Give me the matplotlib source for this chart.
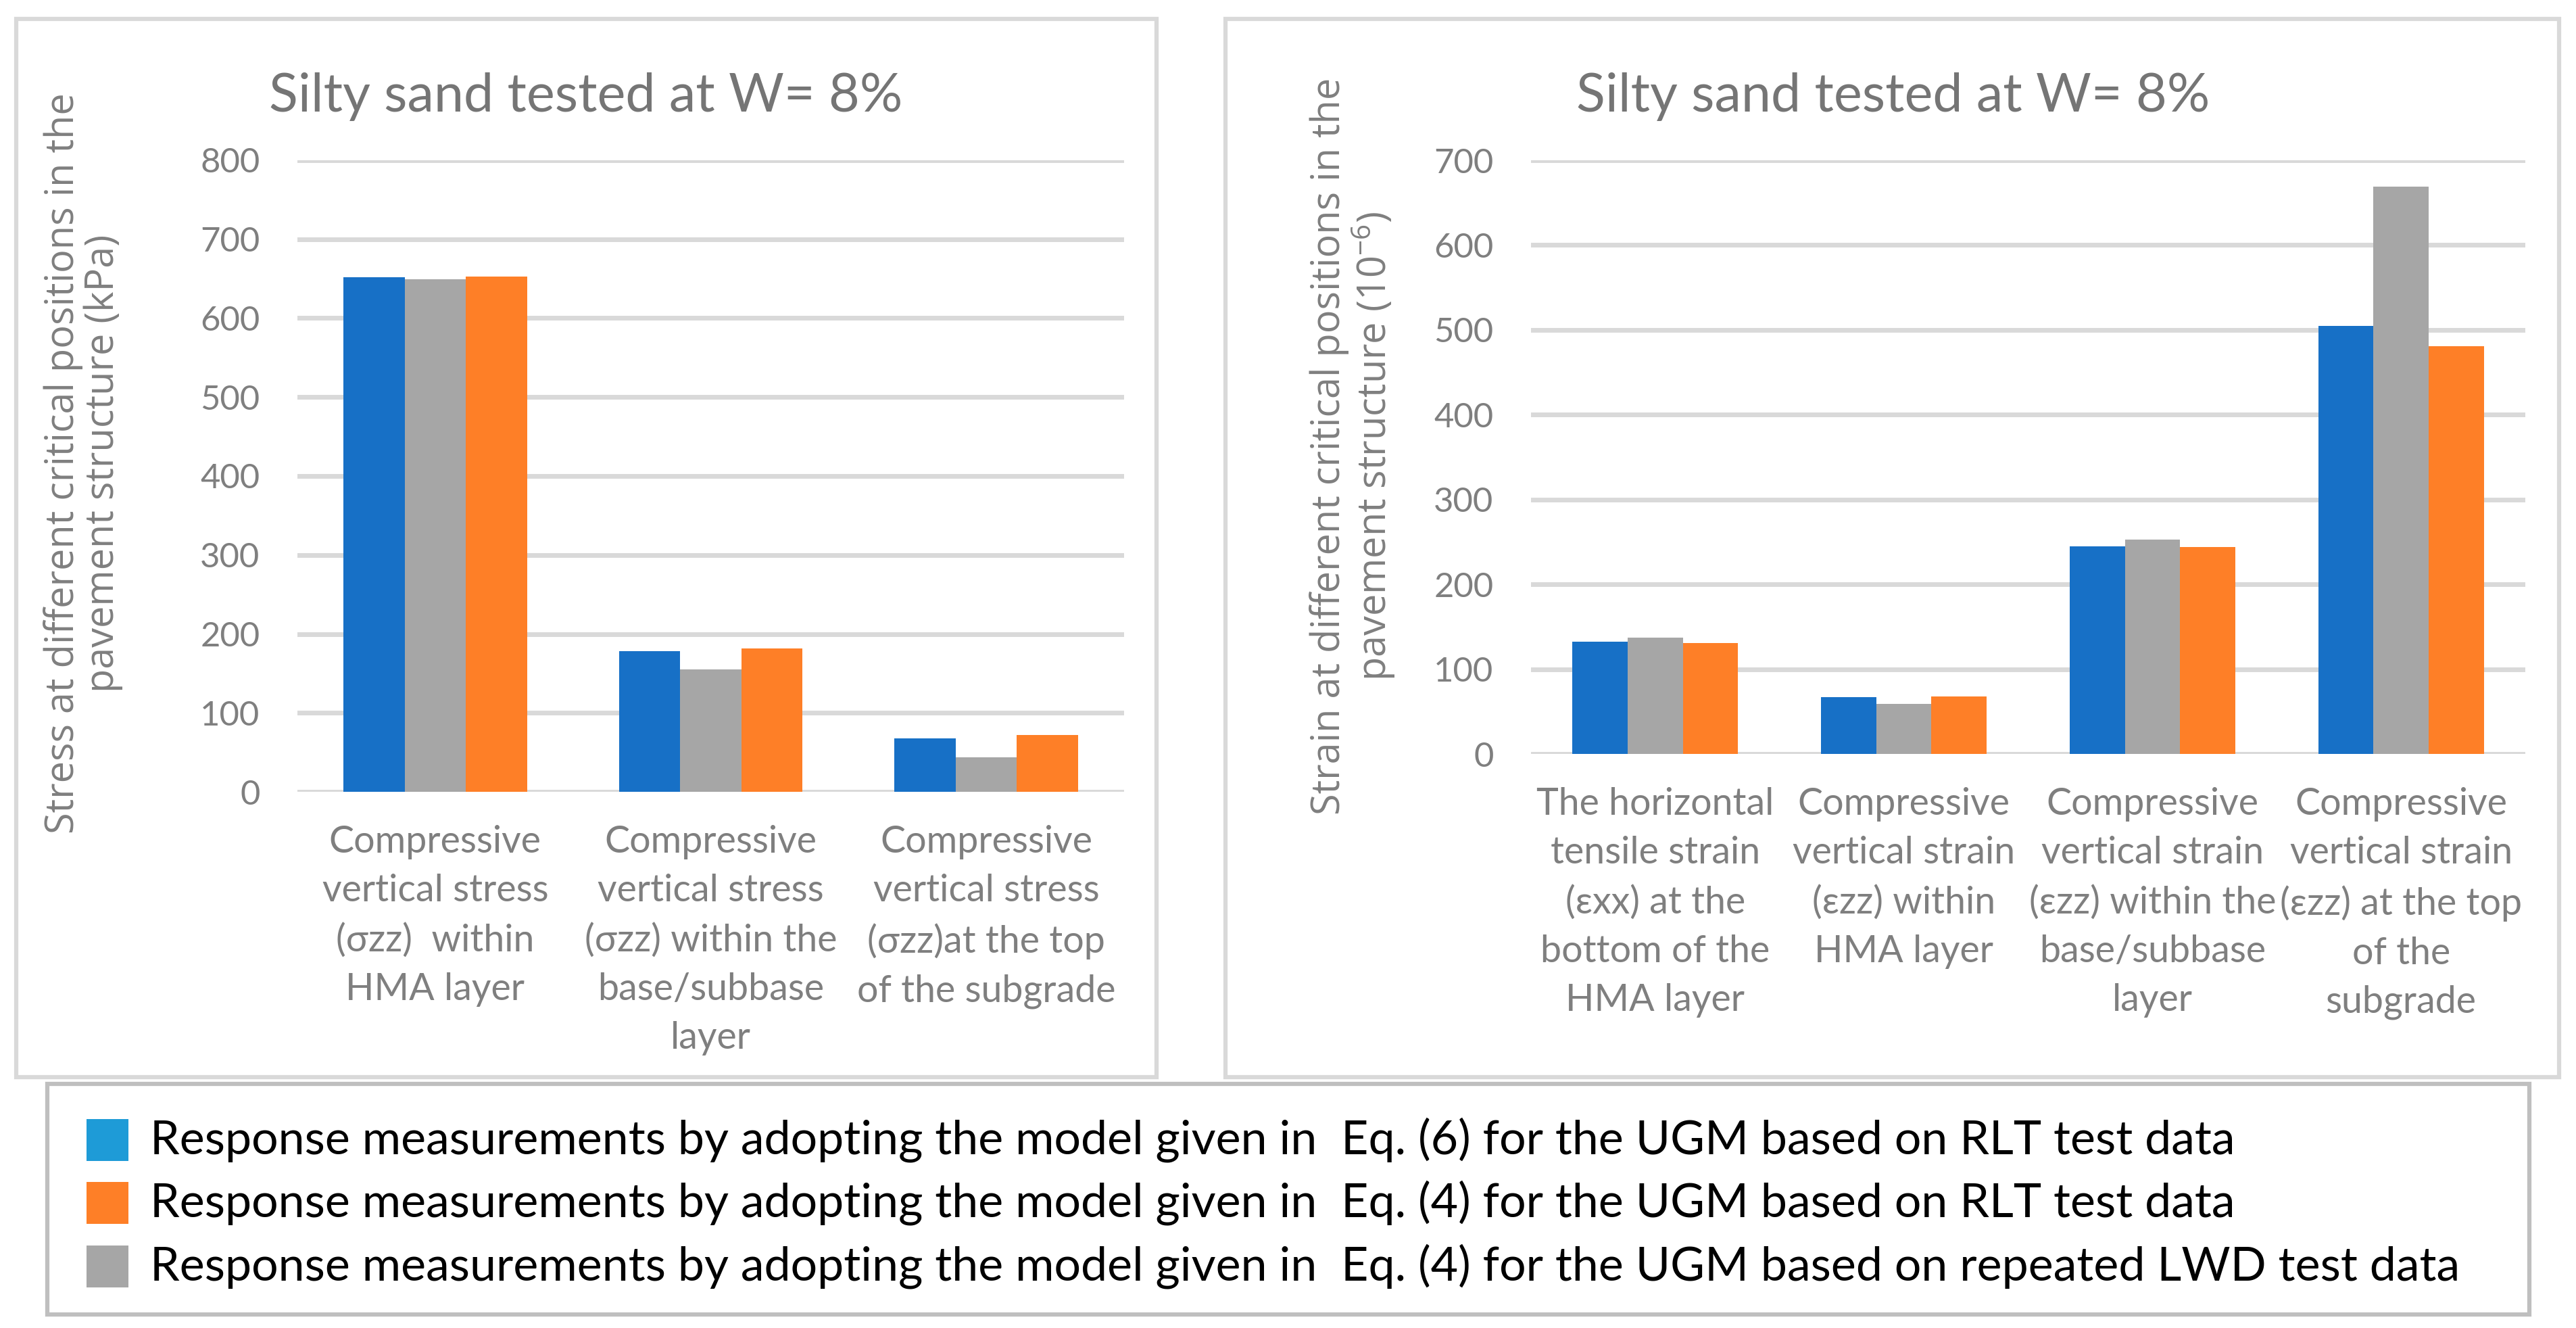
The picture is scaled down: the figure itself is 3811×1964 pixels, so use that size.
import matplotlib
matplotlib.use("Agg")
import matplotlib.pyplot as plt
from matplotlib.patches import Rectangle
import numpy as np

# ---------------- data ----------------
stress_categories = [
    "Compressive\nvertical stress\n(σzz)  within\nHMA layer",
    "Compressive\nvertical stress\n(σzz) within the\nbase/subbase\nlayer",
    "Compressive\nvertical stress\n(σzz)at the top\nof the subgrade",
]
stress_eq6_rlt = [652, 178, 68]
stress_eq4_lwd = [649, 155, 44]
stress_eq4_rlt = [653, 182, 72]

strain_categories = [
    "The horizontal\ntensile strain\n(εxx) at the\nbottom of the\nHMA layer",
    "Compressive\nvertical strain\n(εzz) within\nHMA layer",
    "Compressive\nvertical strain\n(εzz) within the\nbase/subbase\nlayer",
    "Compressive\nvertical strain\n(εzz) at the top\nof the\nsubgrade",
]
strain_eq6_rlt = [132, 67, 245, 505]
strain_eq4_lwd = [137, 59, 253, 669]
strain_eq4_rlt = [131, 68, 244, 481]

stress_ticks = [0, 100, 200, 300, 400, 500, 600, 700, 800]
strain_ticks = [0, 100, 200, 300, 400, 500, 600, 700]

title_text = "Silty sand tested at W= 8%"
stress_ylabel = "Stress at different critical positions in the\npavement structure (kPa)"
strain_ylabel = "Strain at different critical positions in the\npavement structure (10$^{\\mathregular{-6}}$)"

legend_labels = [
    "Response measurements by adopting the model given in  Eq. (6) for the UGM based on RLT test data",
    "Response measurements by adopting the model given in  Eq. (4) for the UGM based on RLT test data",
    "Response measurements by adopting the model given in  Eq. (4) for the UGM based on repeated LWD test data",
]

BLUE = "#1770C6"
GRAY = "#A6A6A6"
ORANGE = "#FE7F27"
LEGEND_BLUE = "#1E9BD7"
legend_colors = [LEGEND_BLUE, ORANGE, GRAY]

TXT = "#7F7F7F"
GRID = "#D9D9D9"

plt.rcParams["mathtext.fontset"] = "custom"
plt.rcParams["mathtext.rm"] = "Open Sans"

W, H = 3811, 1964
fig = plt.figure(figsize=(W / 100, H / 100), dpi=100)
fig.patch.set_facecolor("white")


def px_rect(x0, y0, x1, y1):
    """convert top-origin pixel box to figure fraction [l, b, w, h]"""
    return [x0 / W, 1 - y1 / H, (x1 - x0) / W, (y1 - y0) / H]


def frame(x0, y0, x1, y1, color, lw):
    l, b, w, h = px_rect(x0, y0, x1, y1)
    fig.add_artist(Rectangle((l, b), w, h, transform=fig.transFigure,
                             fill=False, edgecolor=color, linewidth=lw, zorder=0))


# panel frames
frame(24, 28, 1711, 1593, GRID, 4.5)
frame(1813, 28, 3786, 1593, GRID, 4.5)
# legend frame
frame(70, 1603, 3742, 1944, "#BFBFBF", 4.5)


def draw_panel(rect, cats, s_blue, s_gray, s_orange, ticks, ylabel, ylabel_x, ylabel_y, title_x):
    ax = fig.add_axes(px_rect(*rect))
    x = np.arange(len(cats))
    bw = 0.222
    ax.bar(x - bw, s_blue, bw, color=BLUE, zorder=3)
    ax.bar(x, s_gray, bw, color=GRAY, zorder=3)
    ax.bar(x + bw, s_orange, bw, color=ORANGE, zorder=3)
    ax.set_xlim(-0.5, len(cats) - 0.5)
    ax.set_ylim(ticks[0], ticks[-1])
    ax.set_yticks(ticks)
    ax.set_yticklabels([str(t) for t in ticks], family="Lato", fontsize=36.5, color=TXT)
    ax.set_xticks(x)
    ax.set_xticklabels(cats, family="Lato", fontsize=40, color=TXT, linespacing=1.52)
    ax.tick_params(axis="both", length=0)
    ax.tick_params(axis="y", pad=40)
    ax.tick_params(axis="x", pad=35)
    for s in ax.spines.values():
        s.set_visible(False)
    ax.yaxis.grid(True, color=GRID, linewidth=5, zorder=0)
    ax.set_axisbelow(True)
    ax.set_facecolor("none")
    fig.text(ylabel_x / W, 1 - ylabel_y / H, ylabel, rotation=90, ha="center", va="center",
             family="Open Sans", fontsize=41.5, color=TXT, linespacing=1.02)
    fig.text(title_x / W, 1 - 143 / H, title_text, ha="left", va="center",
             family="Lato", fontsize=57, color="#757575")
    return ax


draw_panel((440, 237, 1663, 1171), stress_categories, stress_eq6_rlt, stress_eq4_lwd,
           stress_eq4_rlt, stress_ticks, stress_ylabel, 123, 685, 398)
draw_panel((2265, 237, 3736, 1115), strain_categories, strain_eq6_rlt, strain_eq4_lwd,
           strain_eq4_rlt, strain_ticks, strain_ylabel, 2002, 660, 2332)

# legend
row_y = [1686, 1779, 1873]
for lab, col, yc in zip(legend_labels, legend_colors, row_y):
    l, b, w, h = px_rect(128, yc - 31, 190, yc + 31)
    fig.add_artist(Rectangle((l, b), w, h, transform=fig.transFigure,
                             facecolor=col, edgecolor="none"))
    fig.text(222 / W, 1 - yc / H, lab, ha="left", va="center", family="Lato",
             fontsize=50.3, color="black")

fig.savefig("out.png", dpi=100, facecolor="white")
